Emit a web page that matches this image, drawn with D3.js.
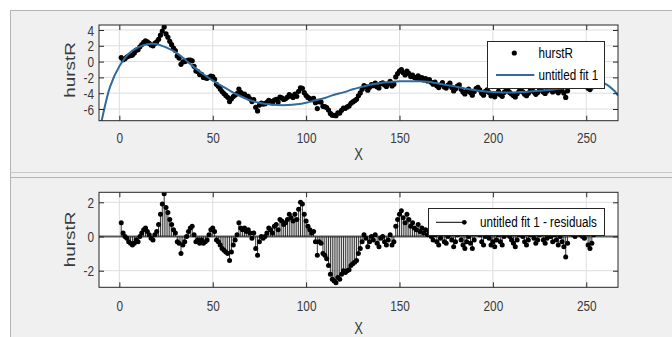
<!DOCTYPE html>
<html>
<head>
<meta charset="utf-8">
<script src="https://cdn.jsdelivr.net/npm/d3@7"></script>
<style>
  body { margin: 0; background: #ffffff; }
  svg { display: block; font-family: Arial, "Liberation Sans", Helvetica, sans-serif; }
</style>
</head>
<body>
<svg id="chart" width="672" height="337"></svg>
<script>
// hurstR values, one per sample (x = 1, 2, 3, ...)
const hurstR = [
  0.52, 0.24, 0.36, 0.58, 0.70, 0.76, 0.82, 1.08, 1.44, 1.50,
  1.88, 2.16, 2.44, 2.62, 2.50, 2.30, 2.10, 2.00, 2.30, 2.50,
  2.82, 3.34, 3.86, 4.38, 3.50, 3.08, 2.56, 2.14, 1.72, 1.40,
  0.72, 0.44, -0.34, -0.02, 0.00, 0.10, 0.20, 0.20, 0.10, -0.60,
  -1.18, -1.26, -1.64, -1.62, -2.00, -2.06, -2.12, -1.98, -1.84, -1.90,
  -2.24, -2.88, -3.12, -3.46, -3.80, -4.04, -4.28, -4.52, -5.06, -4.70,
  -4.42, -4.24, -4.06, -3.48, -3.90, -4.10, -4.10, -4.40, -4.40, -4.70,
  -5.06, -4.82, -5.78, -6.24, -5.50, -5.24, -5.38, -5.32, -5.16, -4.90,
  -5.02, -5.24, -4.86, -4.78, -5.10, -4.50, -4.60, -4.80, -4.70, -4.50,
  -4.18, -4.36, -4.54, -4.12, -4.40, -3.76, -3.32, -3.38, -3.94, -4.30,
  -4.54, -4.68, -4.82, -4.66, -5.20, -5.94, -5.08, -5.12, -5.66, -5.70,
  -5.82, -6.14, -6.56, -6.78, -6.80, -6.84, -6.48, -6.52, -6.16, -5.90,
  -5.92, -5.74, -5.61, -5.28, -5.10, -4.94, -4.78, -4.32, -3.96, -3.50,
  -3.04, -3.18, -3.62, -3.26, -2.90, -3.06, -2.72, -3.18, -3.34, -2.80,
  -2.68, -2.96, -3.14, -2.82, -2.50, -3.08, -2.86, -1.94, -1.52, -1.20,
  -1.00, -1.40, -1.70, -1.20, -1.50, -1.90, -1.70, -2.00, -2.10, -1.80,
  -2.21, -2.02, -2.33, -2.14, -2.45, -2.29, -2.63, -2.87, -2.61, -3.05,
  -3.29, -2.93, -2.67, -3.21, -3.35, -2.99, -2.73, -3.27, -3.71, -3.45,
  -3.10, -2.95, -3.50, -3.85, -4.10, -3.74, -3.48, -3.92, -4.26, -3.80,
  -3.43, -3.26, -3.59, -4.02, -4.25, -3.77, -3.59, -3.91, -4.33, -4.15,
  -4.46, -4.07, -3.78, -4.19, -4.40, -3.90, -3.70, -3.60, -3.90, -4.10,
  -4.29, -4.48, -4.07, -3.76, -3.55, -3.84, -4.13, -4.32, -4.01, -3.70,
  -3.58, -3.86, -4.14, -3.92, -3.60, -3.48, -3.86, -4.04, -3.72, -3.40,
  -3.57, -3.84, -3.41, -3.68, -3.95, -3.42, -3.69, -3.96, -4.53, -3.70,
  -3.06, -2.82, -3.08, -3.14, -2.90, -2.76, -2.92, -2.98, -3.04, -2.70,
  -3.37, -3.54, -3.21, -2.68
];

// residuals of "untitled fit 1", same samples
const residuals = [
  0.8, 0.2, 0.0, -0.1, -0.3, -0.4, -0.5, -0.4, -0.2, -0.3,
  0.0, 0.2, 0.4, 0.5, 0.3, 0.1, -0.1, -0.2, 0.1, 0.3,
  0.7, 1.3, 1.9, 2.5, 1.7, 1.4, 1.0, 0.7, 0.4, 0.2,
  -0.3, -0.4, -1.0, -0.5, -0.3, 0.0, 0.3, 0.5, 0.6, 0.1,
  -0.3, -0.2, -0.4, -0.2, -0.4, -0.3, -0.2, 0.1, 0.4, 0.5,
  0.3, -0.2, -0.3, -0.5, -0.7, -0.8, -0.9, -1.0, -1.4, -0.9,
  -0.5, -0.2, 0.1, 0.8, 0.5, 0.4, 0.5, 0.3, 0.4, 0.2,
  -0.1, 0.2, -0.7, -1.1, -0.3, 0.0, -0.1, 0.0, 0.2, 0.5,
  0.4, 0.2, 0.6, 0.7, 0.4, 1.0, 0.9, 0.7, 0.8, 1.0,
  1.3, 1.1, 0.9, 1.3, 1.0, 1.6, 2.0, 1.9, 1.3, 0.9,
  0.6, 0.4, 0.2, 0.3, -0.3, -1.1, -0.3, -0.4, -1.0, -1.1,
  -1.3, -1.7, -2.2, -2.5, -2.6, -2.7, -2.4, -2.5, -2.2, -2.0,
  -2.1, -2.0, -1.95, -1.7, -1.6, -1.5, -1.4, -1.0, -0.7, -0.3,
  0.1, -0.1, -0.6, -0.3, 0.0, -0.2, 0.1, -0.4, -0.6, -0.1,
  0.0, -0.3, -0.5, -0.2, 0.1, -0.5, -0.3, 0.6, 1.0, 1.3,
  1.5, 1.1, 0.8, 1.3, 1.0, 0.6, 0.8, 0.5, 0.4, 0.7,
  0.3, 0.5, 0.2, 0.4, 0.1, 0.3, 0.0, -0.2, 0.1, -0.3,
  -0.5, -0.1, 0.2, -0.3, -0.4, 0.0, 0.3, -0.2, -0.6, -0.3,
  0.1, 0.3, -0.2, -0.5, -0.7, -0.3, 0.0, -0.4, -0.7, -0.2,
  0.2, 0.4, 0.1, -0.3, -0.5, 0.0, 0.2, -0.1, -0.5, -0.3,
  -0.6, -0.2, 0.1, -0.3, -0.5, 0.0, 0.2, 0.3, 0.0, -0.2,
  -0.4, -0.6, -0.2, 0.1, 0.3, 0.0, -0.3, -0.5, -0.2, 0.1,
  0.2, -0.1, -0.4, -0.2, 0.1, 0.2, -0.2, -0.4, -0.1, 0.2,
  0.0, -0.3, 0.1, -0.2, -0.5, 0.0, -0.3, -0.6, -1.2, -0.4,
  0.2, 0.4, 0.1, 0.0, 0.2, 0.3, 0.1, 0.0, -0.1, 0.2,
  -0.5, -0.7, -0.4, 0.1
];

// fitted curve
const fitX = [-11, -10, -5, 0, 5, 10, 15, 20, 25, 30, 35, 40, 45, 50, 55, 60, 65, 70, 75, 80,
  85, 90, 95, 100, 105, 110, 115, 120, 125, 130, 135, 140, 145, 150, 155, 160, 165, 170, 175, 180,
  185, 190, 195, 200, 205, 210, 215, 220, 225, 230, 235, 240, 245, 250, 255, 260, 265, 267];
const fitY = [-8.9, -8.0, -3.2, -0.6, 1.0, 1.8, 2.2, 2.2, 1.8, 1.2, 0.3, -0.7, -1.6, -2.4, -3.1, -3.8, -4.4, -4.9, -5.2, -5.4,
  -5.5, -5.5, -5.4, -5.2, -4.9, -4.6, -4.2, -3.9, -3.5, -3.2, -2.9, -2.7, -2.6, -2.5, -2.5, -2.5, -2.55, -2.75, -2.95, -3.15,
  -3.4, -3.6, -3.75, -3.85, -3.9, -3.9, -3.85, -3.8, -3.7, -3.6, -3.45, -3.3, -3.1, -2.9, -2.75, -2.8, -3.7, -4.3];

const xTicks = [0, 50, 100, 150, 200, 250];
const topYTicks = [-6, -4, -2, 0, 2, 4];
const bottomYTicks = [-2, 0, 2];

const dataLabel = 'hurstR';
const fitLabel = 'untitled fit 1';
const residLabel = 'untitled fit 1 - residuals';

const fitColor = '#2f6b9c';
const inkColor = '#262626';
const tickTextColor = '#3a3a3a';
const gridColor = '#dedede';
const stretch = 1.3;

const svg = d3.select('#chart');
const left = 99;
const right = 618;

const x = d3.scaleLinear().domain([-10.9, 267]).range([left, right]);
const yTop = d3.scaleLinear().domain([-7.48, 4.63]).range([120.7, 25]);
const yBottom = d3.scaleLinear().domain([-2.97, 2.585]).range([287.3, 192.3]);

const points = hurstR.map((v, i) => ({x: i + 1, y: v}));
const resid = residuals.map((v, i) => ({x: i + 1, y: v}));
const fit = fitX.map((v, i) => ({x: v, y: fitY[i]}));

// figure panels
svg.append('rect').attr('x', 10.5).attr('y', 10.5).attr('width', 680).attr('height', 340)
  .attr('fill', '#f0f0f0').attr('stroke', '#b4b4b4');
svg.append('line').attr('x1', 10.5).attr('x2', 672).attr('y1', 172.5).attr('y2', 172.5).attr('stroke', '#c8c8c8');
svg.append('line').attr('x1', 10.5).attr('x2', 672).attr('y1', 177.5).attr('y2', 177.5).attr('stroke', '#b4b4b4');

function drawFrame(y, yTicks, id) {
  const [yb, yt] = y.range();
  const g = svg.append('g');
  g.append('rect').attr('x', left).attr('y', yt).attr('width', right - left).attr('height', yb - yt).attr('fill', '#fff');
  g.append('g').selectAll('line').data(xTicks).join('line')
    .attr('x1', d => x(d)).attr('x2', d => x(d)).attr('y1', yt).attr('y2', yb)
    .attr('stroke', gridColor);
  g.append('g').selectAll('line').data(yTicks).join('line')
    .attr('x1', left).attr('x2', right).attr('y1', d => y(d)).attr('y2', d => y(d))
    .attr('stroke', gridColor);
  svg.append('clipPath').attr('id', id).append('rect')
    .attr('x', left).attr('y', yt).attr('width', right - left).attr('height', yb - yt);
  return svg.append('g').attr('clip-path', `url(#${id})`);
}

function drawAxes(y, yTicks, labelOffset, xLabelY, yLabelY) {
  const [yb, yt] = y.range();
  const fmt = d => String(d);

  const gx = svg.append('g').attr('transform', `translate(0,${yb})`)
    .call(d3.axisBottom(x).tickValues(xTicks).tickFormat(fmt).tickSizeInner(-5).tickSizeOuter(0));
  gx.selectAll('text').attr('y', 0).attr('dy', null).attr('dominant-baseline', 'central')
    .attr('transform', `translate(0,${labelOffset}) scale(1,${stretch})`);

  const gxt = svg.append('g').attr('transform', `translate(0,${yt})`)
    .call(d3.axisTop(x).tickValues(xTicks).tickFormat('').tickSizeInner(-5).tickSizeOuter(0));

  const gy = svg.append('g').attr('transform', `translate(${left},0)`)
    .call(d3.axisLeft(y).tickValues(yTicks).tickFormat(fmt).tickSizeInner(-5).tickSizeOuter(0));
  gy.selectAll('text').attr('x', 0).attr('dy', null).attr('dominant-baseline', 'central')
    .attr('transform', `translate(-5,0) scale(1,${stretch})`);

  const gyr = svg.append('g').attr('transform', `translate(${right},0)`)
    .call(d3.axisRight(y).tickValues(yTicks).tickFormat('').tickSizeInner(-5).tickSizeOuter(0));

  [gx, gxt, gy, gyr].forEach(a => {
    a.select('.domain').remove();
    a.selectAll('line').attr('stroke', inkColor);
    a.selectAll('text').attr('fill', tickTextColor).style('font-size', '11.8px')
      .style('font-family', 'Arial, "Liberation Sans", sans-serif');
  });

  svg.append('rect').attr('x', left).attr('y', yt).attr('width', right - left).attr('height', yb - yt)
    .attr('fill', 'none').attr('stroke', inkColor).attr('stroke-width', 1);

  svg.append('text').text('X')
    .attr('transform', `translate(${(left + right) / 2},${xLabelY}) scale(1,${stretch})`)
    .attr('text-anchor', 'middle').attr('dominant-baseline', 'central')
    .attr('fill', tickTextColor).style('font-size', '13px');

  svg.append('text').text(dataLabel)
    .attr('transform', `translate(70,${yLabelY}) scale(1,${stretch}) rotate(-90)`)
    .attr('text-anchor', 'middle').attr('dominant-baseline', 'central')
    .attr('fill', tickTextColor).style('font-size', '14.5px');
}

function legendText(g, tx, ty, label) {
  g.append('text').text(label)
    .attr('transform', `translate(${tx},${ty}) scale(1,${stretch})`)
    .attr('dominant-baseline', 'central').attr('fill', '#000').style('font-size', '11.7px');
}

// ---------- top: data and fit ----------
const topPlot = drawFrame(yTop, topYTicks, 'clipTop');

topPlot.append('g').selectAll('circle').data(points).join('circle')
  .attr('cx', d => x(d.x)).attr('cy', d => yTop(d.y)).attr('r', 2.6).attr('fill', '#000');

topPlot.append('path').datum(fit)
  .attr('d', d3.line().x(d => x(d.x)).y(d => yTop(d.y)).curve(d3.curveCatmullRom))
  .attr('fill', 'none').attr('stroke', fitColor).attr('stroke-width', 2);

drawAxes(yTop, topYTicks, 16.8, 154, 70);

const legTop = svg.append('g');
legTop.append('rect').attr('x', 487.5).attr('y', 41.5).attr('width', 117).attr('height', 47)
  .attr('fill', '#fff').attr('stroke', inkColor);
legTop.append('circle').attr('cx', 514.3).attr('cy', 53).attr('r', 2.6).attr('fill', '#000');
legendText(legTop, 538.5, 53, dataLabel);
legTop.append('line').attr('x1', 496).attr('x2', 534.3).attr('y1', 75).attr('y2', 75)
  .attr('stroke', fitColor).attr('stroke-width', 2);
legendText(legTop, 538.5, 75, fitLabel);

// ---------- bottom: residuals ----------
const botPlot = drawFrame(yBottom, bottomYTicks, 'clipBottom');

botPlot.append('line').attr('x1', left).attr('x2', right).attr('y1', yBottom(0)).attr('y2', yBottom(0))
  .attr('stroke', '#5c5c5c').attr('stroke-width', 2);

botPlot.append('g').selectAll('line').data(resid).join('line')
  .attr('x1', d => x(d.x)).attr('x2', d => x(d.x))
  .attr('y1', yBottom(0)).attr('y2', d => yBottom(d.y))
  .attr('stroke', '#000').attr('stroke-width', 0.8);

botPlot.append('g').selectAll('circle').data(resid).join('circle')
  .attr('cx', d => x(d.x)).attr('cy', d => yBottom(d.y)).attr('r', 2.5).attr('fill', '#000');

drawAxes(yBottom, bottomYTicks, 18.5, 328, 239.5);

const legBot = svg.append('g');
legBot.append('rect').attr('x', 428.5).attr('y', 208.5).attr('width', 176).attr('height', 27)
  .attr('fill', '#fff').attr('stroke', inkColor);
legBot.append('line').attr('x1', 436).attr('x2', 464.3).attr('y1', 222.3).attr('y2', 222.3)
  .attr('stroke', '#000').attr('stroke-width', 1);
legBot.append('circle').attr('cx', 464.3).attr('cy', 222.3).attr('r', 2.4).attr('fill', '#000');
legendText(legBot, 480, 222.3, residLabel);
</script>
</body>
</html>
